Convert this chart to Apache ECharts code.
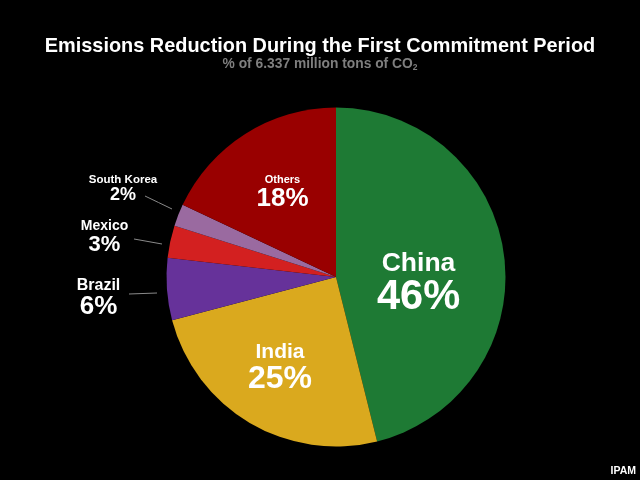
<!DOCTYPE html>
<html>
<head>
<meta charset="utf-8">
<style>html,body{margin:0;padding:0;background:#000}#main{width:640px;height:480px}</style>
<script src="https://cdn.jsdelivr.net/npm/echarts@6/dist/echarts.min.js"></script>
</head>
<body>
<div id="main"></div>
<script>
const countries = ['China', 'India', 'Brazil', 'Mexico', 'South Korea', 'Others'];
// slice sizes, labels show them rounded
const shares = [46.1, 24.8, 5.9, 3.1, 2.1, 18];
const colors = ['#1e7a34', '#daa91e', '#66329a', '#d32020', '#9a6aa0', '#990000'];
const nameSizes = [26.5, 21, 16, 14, 11.5, 11];
const valueSizes = [41.6, 32, 26, 22, 18, 26];
// label centre, in px
const labelX = [418.5, 280, 98.5, 104.5, 123, 282.5];
const labelY = [284.7, 368.5, 299, 237.5, 189, 193];
// leader lines, only the small slices have one
const leaders = {
  2: [[129, 294], [143, 293.5], [157, 293]],
  3: [[134, 239], [148, 241.5], [162, 244]],
  4: [[145, 196], [158.5, 202.5], [172, 209]]
};

const chart = echarts.init(document.getElementById('main'));
chart.setOption({
  backgroundColor: '#000',
  animation: false,
  title: {
    text: 'Emissions Reduction During the First Commitment Period',
    subtext: '{a|% of 6.337 million tons of CO}{b|2}',
    left: 'center',
    top: 32,
    itemGap: -1,
    textStyle: { color: '#fff', fontFamily: 'Liberation Sans', fontWeight: 'bold', fontSize: 19.9 },
    subtextStyle: {
      rich: {
        a: { color: '#7f7f7f', fontFamily: 'Liberation Sans', fontWeight: 'bold', fontSize: 13.8 },
        b: { color: '#7f7f7f', fontFamily: 'Liberation Sans', fontWeight: 'bold', fontSize: 8.5, padding: [7, 0, 0, 0] }
      }
    }
  },
  graphic: [{
    type: 'text',
    right: 4,
    bottom: 3,
    style: { text: 'IPAM', fill: '#fff', font: 'bold 10.5px "Liberation Sans"' }
  }],
  series: [{
    type: 'pie',
    center: [336, 277],
    radius: [0, 169.5],
    startAngle: 90,
    clockwise: true,
    itemStyle: { borderWidth: 0 },
    data: countries.map((name, i) => ({
      name: name,
      value: shares[i],
      itemStyle: { color: colors[i] },
      label: {
        formatter: '{n|' + name + '}\n{v|' + Math.round(shares[i]) + '%}',
        rich: {
          n: { color: '#fff', fontFamily: 'Liberation Sans', fontWeight: 'bold', fontSize: nameSizes[i], align: 'center', lineHeight: nameSizes[i] },
          v: { color: '#fff', fontFamily: 'Liberation Sans', fontWeight: 'bold', fontSize: valueSizes[i], align: 'center', lineHeight: valueSizes[i] }
        }
      },
      labelLine: { show: !!leaders[i], lineStyle: { color: '#8a8a8a', width: 1 } }
    })),
    label: { show: true, position: 'outside', overflow: 'none', width: 200, alignTo: 'none' },
    labelLine: { show: true },
    labelLayout: function (p) {
      return {
        x: labelX[p.dataIndex],
        y: labelY[p.dataIndex],
        align: 'center',
        verticalAlign: 'middle',
        width: 200,
        labelLinePoints: leaders[p.dataIndex]
      };
    }
  }]
});
</script>
</body>
</html>
